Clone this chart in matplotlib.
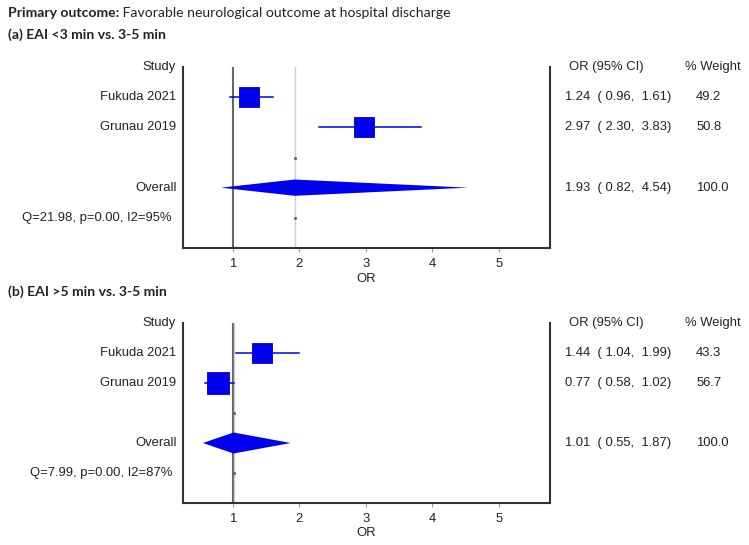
import numpy as np
import matplotlib.pyplot as plt
from matplotlib.patches import Polygon

plt.rcParams['font.family'] = ['Liberation Sans', 'DejaVu Sans']

# panel (a) EAI <3 min vs. 3-5 min
studies = ["Fukuda 2021", "Grunau 2019"]
or_a = [1.24, 2.97]
lo_a = [0.96, 2.30]
hi_a = [1.61, 3.83]
w_a = [49.2, 50.8]
pool_a = [1.93, 0.82, 4.54]
het_a = "Q=21.98, p=0.00, I2=95%"

# panel (b) EAI >5 min vs. 3-5 min
or_b = [1.44, 0.77]
lo_b = [1.04, 0.58]
hi_b = [1.99, 1.02]
w_b = [43.3, 56.7]
pool_b = [1.01, 0.55, 1.87]
het_b = "Q=7.99, p=0.00, I2=87%"

xticks = [1, 2, 3, 4, 5]

BLUE = "#0000f0"
FS = 9.4
TFS = 10.1
TFONT = ["Lato", "DejaVu Sans"]

fig = plt.figure(figsize=(7.49, 5.45), dpi=100, facecolor="white")


def forest(ax, ors, los, his, ws, pool, het, dh):
    ax.set_xlim(0.25, 5.77)
    ax.set_ylim(0, 6)
    rows = [5, 4]
    # reference lines
    ax.axvline(1, color="#666666", lw=1.5, zorder=1)
    ax.axvline(pool[0], color="#d0d0d0", lw=1, zorder=1)
    ax.plot([pool[0], pool[0]], [3, 1], ls="none", marker="s", ms=1.1, color="#666666", zorder=2)
    for y, o, l, h, w in zip(rows, ors, los, his, ws):
        ax.plot([l, h], [y, y], color=BLUE, lw=1.1, zorder=3)
        ax.plot(o, y, marker="s", ms=2.1*np.sqrt(w), color=BLUE, mec="#0000b0", mew=0.6, zorder=4)
    dia = Polygon([[pool[1], 2], [pool[0], 2 + dh], [pool[2], 2], [pool[0], 2 - dh]],
                  closed=True, fc=BLUE, ec="none", zorder=4)
    ax.add_patch(dia)

    tr = ax.get_yaxis_transform()
    ax.text(-0.019, 6, "Study", transform=tr, ha="right", va="center", fontsize=FS, color="#222222")
    for y, s in zip(rows, studies):
        ax.text(-0.019, y, s, transform=tr, ha="right", va="center", fontsize=FS, color="#222222")
    ax.text(-0.016, 2, "Overall", transform=tr, ha="right", va="center", fontsize=FS, color="#222222")
    ax.text(-0.03, 1, het, transform=tr, ha="right", va="center", fontsize=FS, color="#222222")

    ax.text(1.052, 6, "OR (95% CI)", transform=tr, ha="left", va="center", fontsize=FS, color="#222222")
    ax.text(1.368, 6, "% Weight", transform=tr, ha="left", va="center", fontsize=FS, color="#222222")
    for y, o, l, h, w in zip(rows, ors, los, his, ws):
        ax.text(1.041, y, f"{o:.2f}  ( {l:.2f},  {h:.2f})", transform=tr, ha="left", va="center",
                fontsize=FS, color="#222222")
        ax.text(1.398, y, f"{w:.1f}", transform=tr, ha="left", va="center", fontsize=FS, color="#222222")
    ax.text(1.041, 2, f"{pool[0]:.2f}  ( {pool[1]:.2f},  {pool[2]:.2f})", transform=tr, ha="left",
            va="center", fontsize=FS, color="#222222")
    ax.text(1.398, 2, "100.0", transform=tr, ha="left", va="center", fontsize=FS, color="#222222")

    ax.spines["top"].set_visible(False)
    for sp in ["left", "right", "bottom"]:
        ax.spines[sp].set_linewidth(1.5)
        ax.spines[sp].set_color("#333333")
    ax.set_yticks([])
    ax.set_xticks(xticks)
    ax.tick_params(axis="x", length=3, width=0.8, color="#999999", pad=4,
                   labelsize=FS, labelcolor="#222222")
    ax.set_xlabel("OR", fontsize=FS, color="#222222", labelpad=2)


ax1 = fig.add_axes([183/749, 1 - 248/545, 367/749, 181/545])
forest(ax1, or_a, lo_a, hi_a, w_a, pool_a, het_a, 0.27)

ax2 = fig.add_axes([183/749, 1 - 503/545, 367/749, 180/545])
forest(ax2, or_b, lo_b, hi_b, w_b, pool_b, het_b, 0.35)

t1 = fig.text(0.011, 1 - 13/545, "Primary outcome:", fontsize=TFS, fontweight="bold",
              family=TFONT, va="center", ha="left", color="#222222")
ax1.annotate(" Favorable neurological outcome at hospital discharge", xy=(1, 0.5), xycoords=t1,
             fontsize=TFS, family=TFONT, va="center", ha="left", color="#222222",
             annotation_clip=False)
fig.text(0.011, 1 - 35/545, "(a) EAI <3 min vs. 3-5 min", fontsize=TFS, fontweight="bold",
         family=TFONT, va="center", ha="left", color="#222222")
fig.text(0.011, 1 - 292/545, "(b) EAI >5 min vs. 3-5 min", fontsize=TFS, fontweight="bold",
         family=TFONT, va="center", ha="left", color="#222222")

fig.savefig("out.png", dpi=100, facecolor="white")
